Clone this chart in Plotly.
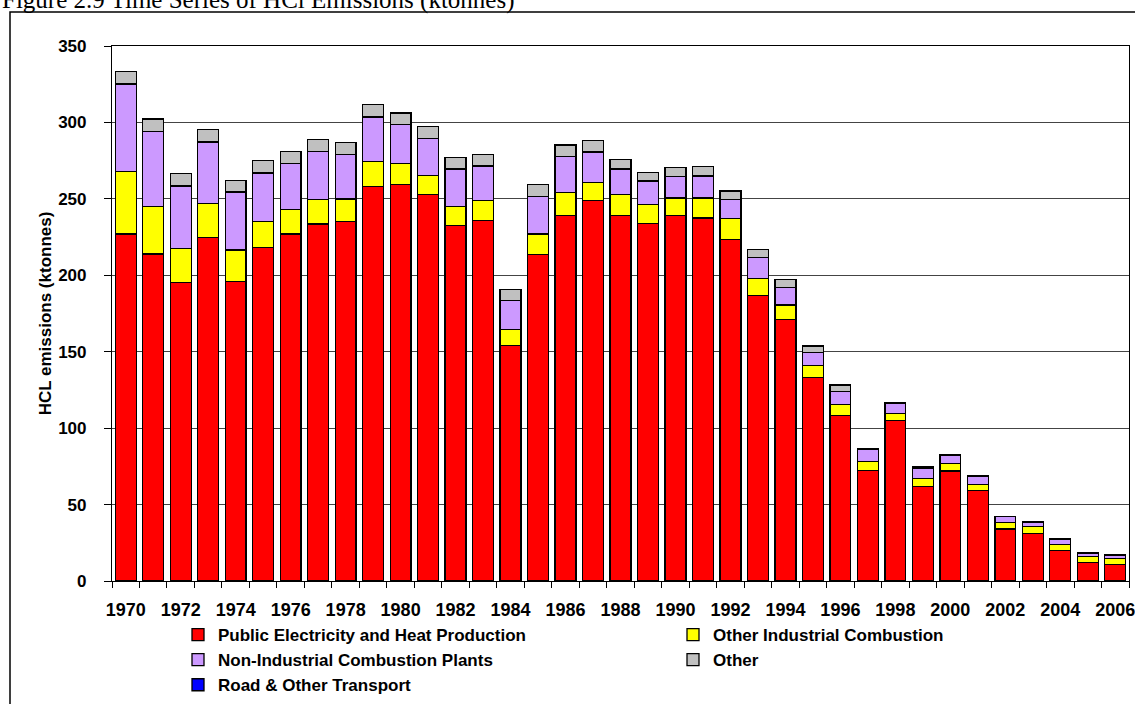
import plotly.graph_objects as go

years = list(range(1970, 2007))

public_elec = [227, 214, 195.5, 224.5, 196, 218, 227, 233.5, 235, 258,
               259.5, 253, 232.5, 236, 154, 213.5, 239, 249, 239, 234,
               239, 237.5, 223.5, 187, 171, 133, 108.5, 72.5, 105, 62,
               72, 59, 34, 31, 20, 12, 11]
other_ind = [41, 31, 22, 22.5, 20.5, 17, 16, 16, 15, 16.5,
             13.5, 12.5, 12.5, 13, 10.5, 13.5, 15, 11.5, 14, 12.5,
             11.5, 13, 13.5, 11, 9.5, 8, 7, 5.5, 4.5, 5,
             5, 4, 4.5, 4.5, 4, 4, 3.5]
non_ind = [57, 49, 41, 40, 38, 32, 30, 31.5, 29, 29,
           25.5, 24, 24.5, 22.5, 19, 24.5, 23.5, 20, 16.5, 15,
           14, 14.5, 12.5, 13.5, 11.5, 8.5, 8.5, 8, 6.5, 7,
           5, 5.5, 3.5, 3, 3, 2, 2.2]
road = [0.2] * 37
other = [8, 8, 8, 8, 7.5, 8, 8, 7.5, 7.5, 8,
         7.5, 7.5, 7.5, 7.5, 7, 7.5, 7.5, 7.5, 6, 5.5,
         6, 6, 5.5, 5, 5, 4, 4, 0.5, 0.5, 0.3,
         0.3, 0.3, 0.2, 0.2, 0.2, 0.3, 0.3]

tick_years = years[::2]
boundaries = [y - 0.5 for y in years] + [years[-1] + 0.5]

FONT = "Liberation Sans, Arial, sans-serif"
line = dict(color="black", width=1.3)

series = [
    ("Public Electricity and Heat Production", public_elec, "#FF0000", "legend"),
    ("Other Industrial Combustion", other_ind, "#FFFF00", "legend2"),
    ("Non-Industrial Combustion Plants", non_ind, "#CC99FF", "legend"),
    ("Road & Other Transport", road, "#0000FF", "legend"),
    ("Other", other, "#C0C0C0", "legend2"),
]

fig = go.Figure()
for name, vals, col, lg in series:
    fig.add_trace(go.Bar(x=years, y=vals, name=name, legend=lg,
                         marker=dict(color=col, line=line)))

W, H = 1135, 704
L, R, T, B = 112, 6, 46, 123
pw = W - L - R
ph = H - T - B

def px_x(p):
    return (p - L) / pw

def px_y(p):
    return 1 - (p - T) / ph

legfont = dict(family=FONT, size=17, weight="bold", color="black")

fig.update_layout(
    width=W, height=H,
    margin=dict(l=L, r=R, t=T, b=B, autoexpand=False),
    paper_bgcolor="white", plot_bgcolor="white",
    barmode="stack", bargap=0.24,
    font=dict(family=FONT, color="black"),
    showlegend=True,
    legend=dict(x=px_x(178), y=px_y(617), xanchor="left", yanchor="top",
                orientation="v", traceorder="normal", font=legfont,
                bgcolor="rgba(0,0,0,0)"),
    legend2=dict(x=px_x(673), y=px_y(617), xanchor="left", yanchor="top",
                 orientation="v", traceorder="normal", font=legfont,
                 bgcolor="rgba(0,0,0,0)"),
    xaxis=dict(
        type="linear", range=[years[0] - 0.5, years[-1] + 0.5],
        tickmode="array", tickvals=tick_years, ticktext=[str(y) for y in tick_years],
        ticks="", showgrid=False, zeroline=False,
        showline=True, linecolor="black", linewidth=1.2, mirror=True,
        tickfont=dict(family=FONT, size=18, weight="bold", color="black"),
        ticklabelstandoff=12, ticklabeloverflow="allow",
        minor=dict(tickmode="array", tickvals=boundaries, ticks="outside",
                   ticklen=6, tickcolor="black", tickwidth=1, showgrid=False),
    ),
    yaxis=dict(
        range=[0, 350], dtick=50, tick0=0,
        ticks="outside", ticklen=7, tickcolor="black", tickwidth=1,
        showgrid=True, gridcolor="#444444", gridwidth=1, zeroline=False,
        showline=True, linecolor="black", linewidth=1.2, mirror=True,
        tickfont=dict(family=FONT, size=17, weight="bold", color="black"),
        ticklabelstandoff=14,
        title=dict(text="HCL emissions (ktonnes)", standoff=2,
                   font=dict(family=FONT, size=17, weight="bold", color="black")),
    ),
    shapes=[dict(type="rect", xref="paper", yref="paper",
                 x0=px_x(10), x1=px_x(1400), y0=px_y(900), y1=px_y(12),
                 line=dict(color="black", width=1.5), fillcolor="rgba(0,0,0,0)",
                 layer="below")],
    annotations=[dict(text="Figure 2.9 Time Series of HCl Emissions (ktonnes)",
                      xref="paper", yref="paper", x=px_x(0), y=px_y(16),
                      xanchor="left", yanchor="bottom", showarrow=False,
                      font=dict(family="Liberation Serif, Times New Roman, serif",
                                size=25, color="black"))],
)

fig.write_html(
    "out.html",
    config={"displayModeBar": False},
    post_script="document.body.style.margin='0px';document.body.style.overflow='hidden';",
)
